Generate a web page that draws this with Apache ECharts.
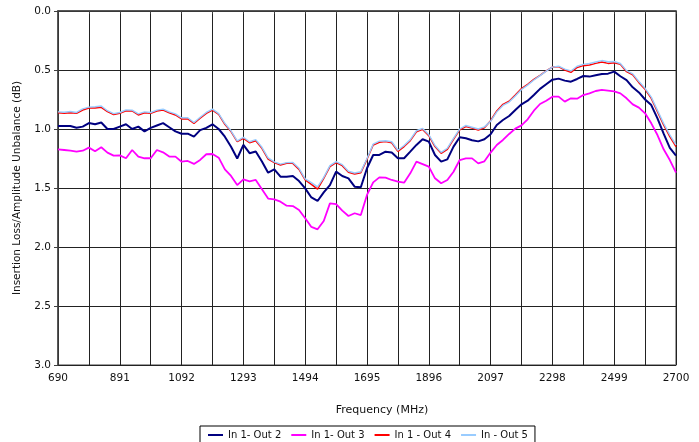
<!DOCTYPE html>
<html>
<head>
<meta charset="utf-8">
<script src="https://cdn.jsdelivr.net/npm/echarts@6/dist/echarts.min.js"></script>
<style>html,body{margin:0;padding:0;background:#fff;}#c{width:699px;height:442px;}</style>
</head>
<body>
<div id="c"></div>
<script>
// Sweep: 690 MHz to 2700 MHz, 101 points
const F_START = 690, F_STOP = 2700, N_POINTS = 101;
const freqs = Array.from({length: N_POINTS}, (_, i) => F_START + i * (F_STOP - F_START) / (N_POINTS - 1));

const xTickLabels = ['690','891','1092','1293','1494','1695','1896','2097','2298','2499','2700'];
const yTickLabels = ['0.0','0.5','1.0','1.5','2.0','2.5','3.0'];
const seriesNames = ['In 1- Out 2','In 1- Out 3','In 1 - Out 4','In - Out 5'];

const out2 = [0.975,0.975,0.975,0.99,0.98,0.95,0.96,0.945,1.0,1.0,
0.98,0.96,1.0,0.98,1.02,0.99,0.97,0.95,0.985,1.02,
1.04,1.04,1.065,1.01,0.99,0.96,1.0,1.065,1.15,1.25,
1.135,1.205,1.19,1.275,1.37,1.342,1.404,1.404,1.398,1.441,
1.503,1.58,1.61,1.537,1.475,1.361,1.398,1.418,1.489,1.494,
1.333,1.22,1.22,1.192,1.2,1.248,1.248,1.192,1.135,1.087,
1.107,1.22,1.276,1.257,1.149,1.07,1.079,1.095,1.105,1.087,
1.045,0.966,0.924,0.89,0.839,0.791,0.76,0.712,0.66,0.621,
0.582,0.573,0.59,0.599,0.576,0.551,0.556,0.545,0.534,0.531,
0.514,0.553,0.585,0.647,0.69,0.75,0.797,0.91,1.04,1.16,1.225];

const out3 = [1.172,1.178,1.184,1.192,1.184,1.158,1.189,1.155,1.2,1.226,
1.223,1.248,1.178,1.234,1.248,1.248,1.178,1.198,1.234,1.234,
1.277,1.271,1.296,1.262,1.214,1.212,1.243,1.342,1.398,1.475,
1.427,1.444,1.432,1.511,1.59,1.596,1.616,1.65,1.653,1.686,
1.757,1.83,1.85,1.78,1.63,1.636,1.692,1.737,1.714,1.729,
1.559,1.452,1.41,1.412,1.432,1.446,1.455,1.376,1.277,1.297,
1.319,1.418,1.46,1.432,1.362,1.263,1.249,1.249,1.291,1.274,
1.2,1.136,1.093,1.042,0.997,0.969,0.918,0.845,0.788,0.76,
0.726,0.726,0.768,0.74,0.743,0.712,0.698,0.678,0.669,0.675,
0.681,0.698,0.74,0.791,0.819,0.867,0.952,1.051,1.172,1.263,1.37];

const out4 = [0.862,0.867,0.862,0.867,0.839,0.822,0.822,0.816,0.853,0.878,
0.867,0.845,0.847,0.881,0.862,0.867,0.847,0.839,0.862,0.881,
0.915,0.915,0.952,0.909,0.867,0.84,0.876,0.96,1.022,1.107,
1.079,1.116,1.099,1.164,1.255,1.285,1.305,1.291,1.291,1.342,
1.432,1.47,1.51,1.418,1.319,1.285,1.311,1.367,1.381,1.37,
1.257,1.136,1.113,1.107,1.116,1.189,1.149,1.099,1.023,1.003,
1.056,1.149,1.206,1.172,1.087,1.008,0.98,0.992,1.008,0.989,
0.93,0.847,0.791,0.765,0.712,0.658,0.621,0.579,0.545,0.508,
0.475,0.472,0.5,0.52,0.478,0.463,0.458,0.444,0.432,0.444,
0.438,0.452,0.514,0.54,0.607,0.664,0.74,0.853,0.966,1.065,1.15];

const out5 = [0.855,0.858,0.852,0.86,0.83,0.815,0.812,0.805,0.845,0.87,
0.86,0.838,0.84,0.872,0.855,0.86,0.84,0.832,0.855,0.872,
0.905,0.905,0.945,0.9,0.86,0.832,0.87,0.952,1.015,1.1,
1.07,1.108,1.09,1.155,1.245,1.278,1.298,1.285,1.283,1.333,
1.422,1.455,1.49,1.41,1.31,1.277,1.302,1.358,1.373,1.362,
1.25,1.128,1.103,1.1,1.108,1.18,1.14,1.09,1.015,0.995,
1.048,1.14,1.198,1.163,1.08,1.0,0.97,0.985,1.0,0.982,
0.935,0.855,0.8,0.772,0.72,0.665,0.628,0.585,0.548,0.51,
0.476,0.468,0.492,0.508,0.468,0.452,0.445,0.432,0.42,0.43,
0.428,0.445,0.505,0.533,0.598,0.655,0.73,0.842,0.952,1.05,1.135];

const FONT = 'DejaVu Sans';
const X_STEP = (F_STOP - F_START) / 20; // gridline spacing
const toData = arr => arr.map((v, i) => [freqs[i] - F_START, v]);

const chart = echarts.init(document.getElementById('c'), null, {renderer: 'canvas'});
chart.setOption({
  animation: false,
  backgroundColor: '#fff',
  grid: {left: 58, top: 11, right: 23, bottom: 77, show: true, borderColor: '#808080', borderWidth: 1.5, backgroundColor: 'transparent'},
  xAxis: {
    type: 'value', min: 0, max: F_STOP - F_START, interval: X_STEP,
    name: 'Frequency (MHz)', nameLocation: 'middle', nameGap: 40,
    nameTextStyle: {fontFamily: FONT, fontSize: 11, color: '#111', padding: [0, 0, 0, 30]},
    axisLine: {show: true, lineStyle: {color: '#404040', width: 1.5}},
    axisTick: {show: true, length: 3, lineStyle: {color: '#404040'}},
    axisLabel: {
      fontFamily: FONT, fontSize: 10.5, color: '#111', margin: 8,
      showMinLabel: true, showMaxLabel: true,
      formatter: v => { const k = Math.round(v / X_STEP); return k % 2 === 0 ? xTickLabels[k / 2] : ''; }
    },
    splitLine: {show: true, lineStyle: {color: '#222', width: 1}}
  },
  yAxis: {
    type: 'value', inverse: true, min: 0, max: 3, interval: 0.5,
    name: 'Insertion Loss/Amplitude Unbalance (dB)', nameLocation: 'middle', nameGap: 35, nameRotate: 90,
    nameTextStyle: {fontFamily: FONT, fontSize: 10.5, color: '#111'},
    axisLine: {show: true, lineStyle: {color: '#404040', width: 1.5}},
    axisTick: {show: true, length: 4, lineStyle: {color: '#404040'}},
    axisLabel: {fontFamily: FONT, fontSize: 10.5, color: '#111', margin: 7,
      formatter: v => yTickLabels[Math.round(v / 0.5)]},
    splitLine: {show: true, lineStyle: {color: '#222', width: 1}}
  },
  legend: {
    left: 200, top: 426, orient: 'horizontal',
    padding: [4, 7, 8, 8], itemGap: 10, itemWidth: 15, itemHeight: 2, icon: 'rect',
    borderColor: '#000', borderWidth: 1, backgroundColor: '#fff',
    textStyle: {fontFamily: FONT, fontSize: 10, color: '#111'},
    data: seriesNames
  },
  series: [
    {name: seriesNames[0], type: 'line', data: toData(out2), symbol: 'none', showSymbol: false, color: '#000080', lineStyle: {color: '#000080', width: 2}, z: 3},
    {name: seriesNames[1], type: 'line', data: toData(out3), symbol: 'none', showSymbol: false, color: '#FF00FF', lineStyle: {color: '#FF00FF', width: 1.8}, z: 3},
    {name: seriesNames[2], type: 'line', data: toData(out4), symbol: 'none', showSymbol: false, color: '#FF0000', lineStyle: {color: '#FF0000', width: 1.5}, z: 3},
    {name: seriesNames[3], type: 'line', data: toData(out5), symbol: 'none', showSymbol: false, color: '#99CCFF', lineStyle: {color: '#99CCFF', width: 1.4}, z: 3}
  ]
});
</script>
</body>
</html>
